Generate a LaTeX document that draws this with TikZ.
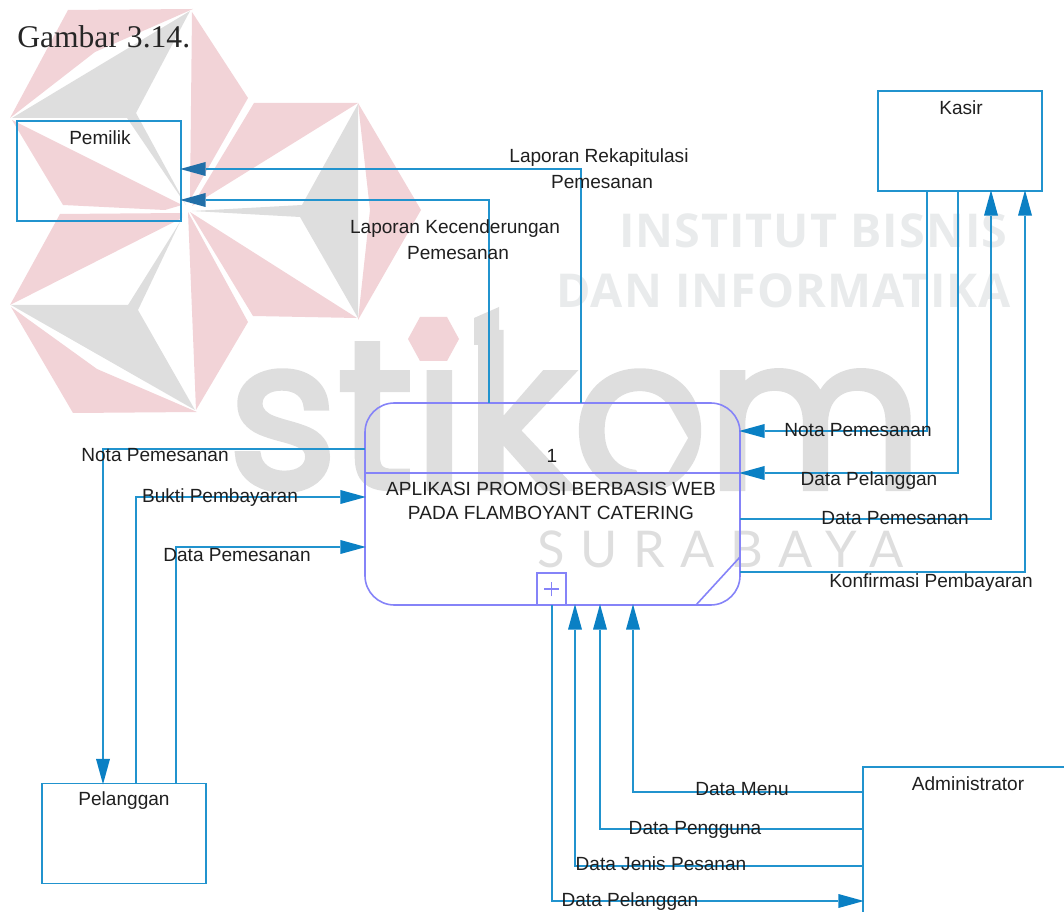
\documentclass[tikz,border=0pt]{standalone}
\usepackage{fontspec}
\usetikzlibrary{arrows.meta}
\setmainfont{Liberation Sans}
\newfontfamily\gambarfont{Liberation Serif}
\newfontfamily\logofont[FakeBold=3]{Poppins}
\newfontfamily\wmfont[LetterSpace=2.2]{Open Sans}
\newfontfamily\kotafont[LetterSpace=31]{Lato}
\definecolor{flowblue}{HTML}{2193CE}
\definecolor{tipblue}{HTML}{0A80C4}
\definecolor{tipdark}{HTML}{226FA8}
\definecolor{procline}{HTML}{8583F8}
\definecolor{wmred}{HTML}{F2D3D7}
\definecolor{wmgray}{HTML}{DEDEDE}
\definecolor{wmpale}{HTML}{E9EBEC}
\begin{document}
\begin{tikzpicture}[
  x=0.75pt, y=-0.75pt,
  flow/.style = {draw=flowblue, line width=1.3pt},
  flowtip/.style = {flow, shorten >=-0.6pt, -{Triangle[length=19pt,width=10.5pt,color=tipblue,line width=0pt]}},
  flowdark/.style = {flow, shorten >=-0.6pt, -{Triangle[length=19pt,width=10.5pt,color=tipdark,line width=0pt]}},
  entity/.style = {draw=flowblue, line width=1.3pt, minimum width=123pt, minimum height=75pt, inner sep=0pt, outer sep=0pt},
  proc/.style = {draw=procline, line width=1.2pt, inner sep=0pt, outer sep=0pt},
  lbl/.style = {font=\fontsize{14.3}{14}\selectfont, text=black!88, inner sep=0pt}
]
  \clip (0,0) rectangle (1064,912);
  % logo
  \fill[wmred] (10,118) -- (68,10) -- (193,9) -- (95,52) -- cycle;
  \fill[wmred] (192,12) -- (248,98) -- (190,200) -- cycle;
  \fill[wmred] (12,120) -- (63,205) -- (165,210) -- (182,205) -- cycle;
  \fill[wmred] (10,305) -- (60,214) -- (182,213) -- (182,218) -- cycle;
  \fill[wmred] (11,307) -- (73,413) -- (197,412) -- (97,369) -- cycle;
  \fill[wmred] (188,212) -- (248,322) -- (196,410) -- cycle;
  \fill[wmred] (190,212) -- (253,316) -- (357,318) -- cycle;
  \fill[wmred] (254,103) -- (358,103) -- (192,206) -- cycle;
  \fill[wmred] (358,103) -- (421,210) -- (358,320) -- (370,210) -- cycle;
  \fill[wmgray] (12,118) -- (190,11) -- (136,113) -- (186,205) -- (127,118) -- cycle;
  \fill[wmgray] (11,305) -- (128,305) -- (180,222) -- (138,310) -- (195,410) -- cycle;
  \fill[wmgray] (192,211) -- (302,205) -- (358,104) -- (358,318) -- (300,217) -- cycle;
  % watermark
  \node[anchor=base west, inner sep=0pt, text=wmgray, font=\fontsize{157}{157}\logofont] (wmstikom) at (228,488) {stikom};
  \fill[wmgray] (474,318) -- (499,307) -- (499,345) -- (474,345) -- cycle;
  \fill[white] (618,438) -- (638,403) -- (668,403) -- (688,438) -- (668,473) -- (638,473) -- cycle;
  \fill[white] (408,316) rectangle (460,364);
  \fill[wmred] (420,317) -- (447,317) -- (459,339) -- (447,361) -- (420,361) -- (408,339) -- cycle;
  \node[anchor=base west, inner sep=0pt, text=wmpale, font=\fontsize{35}{35}\wmfont\bfseries] (wminstitut) at (619,248) {INSTITUT BISNIS};
  \node[anchor=base west, inner sep=0pt, text=wmpale, font=\fontsize{35}{35}\wmfont\bfseries] (wmdan) at (556,308) {DAN INFORMATIKA};
  \node[anchor=base west, inner sep=0pt, text=wmgray, font=\fontsize{38}{38}\kotafont] (wmkota) at (537,568) {SURABAYA};
  \node[anchor=base west, inner sep=0pt, text=black!85, font=\fontsize{23.7}{24}\gambarfont] (judul) at (17,48) {Gambar 3.14.};
  % entitas
  \node[entity] (pemilik) at (99,171) {};
  \node[entity] (kasir) at (960,141) {};
  \node[entity] (pelanggan) at (124,833.5) {};
  \node[entity, minimum width=180pt, minimum height=137pt] (admin) at (983,858) {};
  \node[lbl] (tpemilik) at (100,138) {Pemilik};
  \node[lbl] (tkasir) at (961,108) {Kasir};
  \node[lbl] (tpelanggan) at (124,801) {Pelanggan};
  \node[lbl] (tadmin) at (968,784) {Administrator};
  % proses
  \node[proc, rounded corners=22pt, minimum width=281.25pt, minimum height=151.5pt] (proses) at (552.5,504) {};
  \coordinate (garis) at (0,473);
  \draw[proc] (proses.west |- garis) -- (proses.east |- garis);
  \coordinate (lipat) at (696,557);
  \draw[proc] (proses.east |- lipat) -- (proses.south -| lipat);
  \node[proc, minimum width=22pt, minimum height=24pt] (plus) at (551.5,589) {};
  \draw[proc, line width=0.8pt] ([xshift=-5.5pt]plus.center) -- ([xshift=5.5pt]plus.center);
  \draw[proc, line width=0.8pt] ([yshift=-5.5pt]plus.center) -- ([yshift=5.5pt]plus.center);
  \node[lbl] (tsatu) at (552,456) {1};
  \node[lbl] (tproses) at (551,489) {APLIKASI PROMOSI BERBASIS WEB};
  \node[lbl] (tproses2) at (551,513) {PADA FLAMBOYANT CATERING};
  % ke pemilik
  \coordinate (rekap) at (581,169);
  \coordinate (tren) at (489,200);
  \draw[flowdark] (proses.north -| rekap) |- (pemilik.east |- rekap);
  \draw[flowdark] (proses.north -| tren) |- (pemilik.east |- tren);
  \node[lbl] (lrekap) at (599,158) {Laporan Rekapitulasi};
  \node[lbl] (lrekap2) at (602,182) {Pemesanan};
  \node[lbl] (ltren) at (455,229) {Laporan Kecenderungan};
  \node[lbl] (ltren2) at (458,253) {Pemesanan};
  % pelanggan
  \coordinate (nota) at (103,449);
  \coordinate (bukti) at (136,497);
  \coordinate (pesan) at (176,547);
  \draw[flowtip] (proses.west |- nota) -| (pelanggan.north -| nota);
  \draw[flowtip] (pelanggan.north -| bukti) |- (proses.west |- bukti);
  \draw[flowtip] (pelanggan.north -| pesan) |- (proses.west |- pesan);
  \node[lbl] (lnota) at (155,455) {Nota Pemesanan};
  \node[lbl] (lbukti) at (220,498) {Bukti Pembayaran};
  \node[lbl] (lpesan) at (237,555) {Data Pemesanan};
  % kasir
  \coordinate (notak) at (927,431);
  \coordinate (plgk) at (958,473);
  \coordinate (pesank) at (991,519);
  \coordinate (konf) at (1025,572);
  \draw[flowtip] (kasir.south -| notak) |- (proses.east |- notak);
  \draw[flowtip] (kasir.south -| plgk) |- (proses.east |- plgk);
  \draw[flowtip] (proses.east |- pesank) -| (kasir.south -| pesank);
  \draw[flowtip] (proses.east |- konf) -| (kasir.south -| konf);
  \node[lbl] (lnotak) at (858,430) {Nota Pemesanan};
  \node[lbl] (lplgk) at (869,481) {Data Pelanggan};
  \node[lbl] (lpesank) at (895,518) {Data Pemesanan};
  \node[lbl] (lkonf) at (931,583) {Konfirmasi Pembayaran};
  % administrator
  \coordinate (menu) at (633,792);
  \coordinate (guna) at (600,829);
  \coordinate (jenis) at (575,866);
  \coordinate (plga) at (552,901);
  \draw[flowtip] (admin.west |- menu) -| (proses.south -| menu);
  \draw[flowtip] (admin.west |- guna) -| (proses.south -| guna);
  \draw[flowtip] (admin.west |- jenis) -| (proses.south -| jenis);
  \draw[flowtip] (plus.south -| plga) |- (admin.west |- plga);
  \node[lbl] (lmenu) at (742,789) {Data Menu};
  \node[lbl] (lguna) at (695,830) {Data Pengguna};
  \node[lbl] (ljenis) at (661,864) {Data Jenis Pesanan};
  \node[lbl] (lplga) at (630,902) {Data Pelanggan};
\end{tikzpicture}
\end{document}
